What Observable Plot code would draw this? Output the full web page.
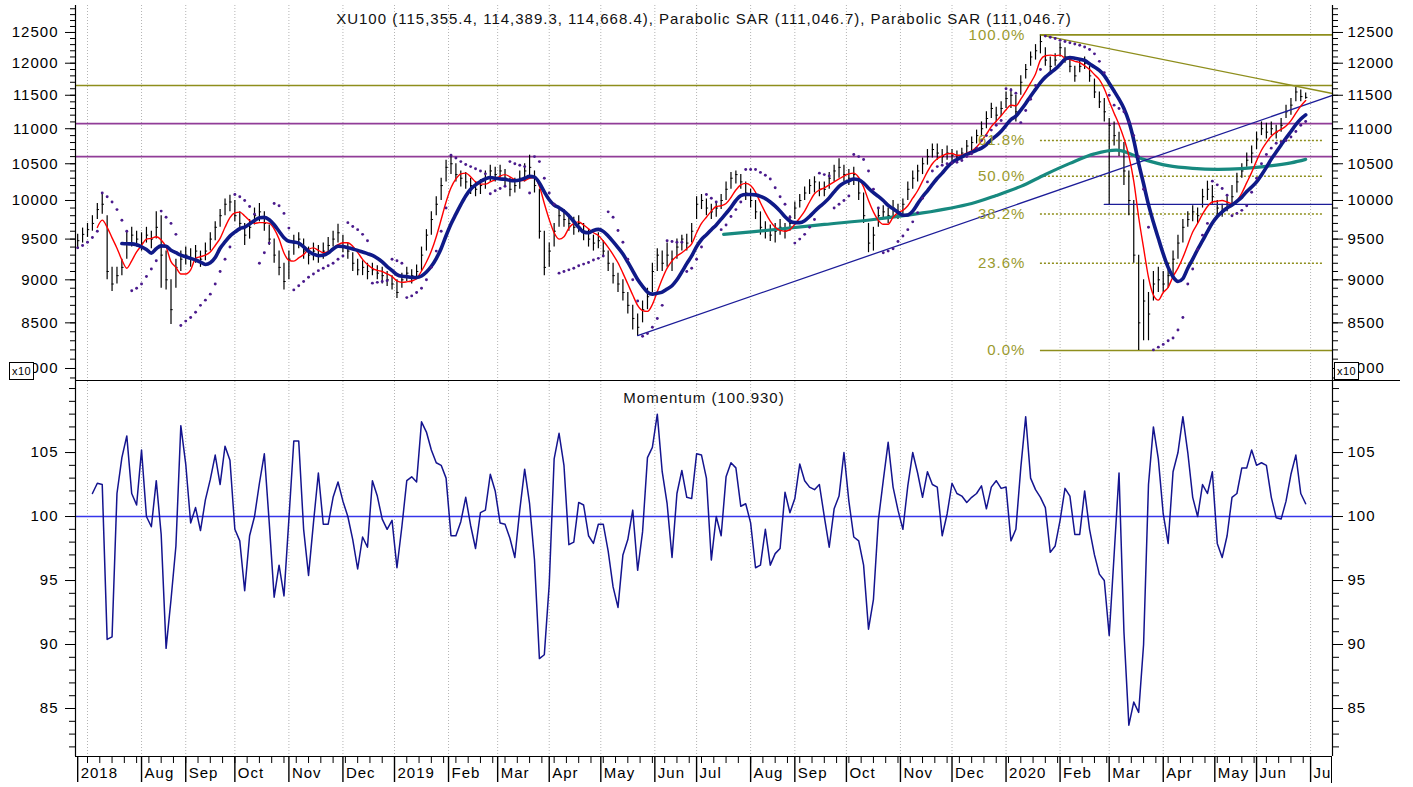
<!DOCTYPE html>
<html><head><meta charset="utf-8">
<script src="https://cdn.jsdelivr.net/npm/d3@7"></script>
<script src="https://cdn.jsdelivr.net/npm/@observablehq/plot@0.6"></script>
<style>
body{margin:0;background:#fff;}
#wrap{position:relative;width:1413px;height:787px;overflow:hidden;font-family:"Liberation Sans",Arial,sans-serif;background:#fff;}
#top,#bot{position:absolute;left:0;}
#top{top:0}
#bot{top:381px}
.x10{position:absolute;width:25px;height:18px;border:1px solid #000;background:#fff;font-size:11px;line-height:16px;text-align:center;box-sizing:border-box;letter-spacing:0.5px}
.hl{position:absolute;background:#000;height:1px}
</style></head><body><div id="wrap"><div id="top"></div><div id="bot"></div>
<div class="hl" style="left:75px;top:380px;width:1325px"></div>
<div class="x10" style="left:9px;top:362px">x10</div>
<div class="x10" style="left:1334px;top:362px">x10</div>
<div style="position:absolute;left:1331px;top:757px;width:82px;height:26px;background:#fff;border-left:1.5px solid #000;box-sizing:border-box"></div>
</div>
<script>
// ---- Price data (XU100 /10), one sample every 2 trading days ----
const startDay = -4, stepDays = 2;
const closeP = [
9480,9560,9620,9700,9880,9950,9100,8950,9050,9150,
9450,9550,9500,9450,9550,9500,9650,9300,9000,8650,
9150,9250,9300,9250,9350,9250,9350,9500,9650,9800,
9950,9980,9800,9700,9550,9650,9800,9850,9700,9500,
9300,9150,8980,9250,9450,9500,9350,9300,9350,9300,
9350,9420,9500,9580,9420,9350,9200,9120,9150,9100,
9120,9080,9050,9000,8950,8850,9000,9080,9050,9100,
9300,9550,9750,9950,10200,10450,10500,10350,10300,10250,
10200,10150,10200,10300,10400,10350,10400,10300,10150,10200,
10300,10400,10450,10200,9600,9150,9350,9600,9800,9750,
9700,9650,9700,9600,9500,9450,9480,9350,9200,9050,
8950,8850,8700,8550,8450,8650,8800,9100,9300,9200,
9300,9250,9400,9500,9450,9600,9950,10000,9900,9850,
9900,10000,10150,10300,10350,10250,10100,10000,9850,9650,
9600,9550,9600,9650,9600,9700,9900,10000,10100,10200,
10250,10150,10150,10300,10400,10450,10350,10300,10350,10100,
9800,9450,9550,9800,9850,9800,9900,9850,9950,10150,
10300,10400,10500,10600,10700,10650,10600,10650,10620,10580,
10650,10750,10800,10900,11000,11150,11300,11200,11300,11450,
11500,11250,11700,11900,12100,12200,12350,12050,11950,12050,
12250,12100,11950,11800,11950,12000,11800,11550,11400,11250,
11050,10900,10700,10400,10000,9300,8500,8750,8600,8950,
9000,8950,9050,9250,9450,9650,9750,9850,9800,10050,
10150,10050,9900,9850,9950,10050,10250,10400,10550,10650,
10850,11000,10950,11000,10950,11050,11250,11350,11550,11480,11467];
const highP = [
9560,9640,9700,9800,9960,10100,9800,9150,9150,9250,
9600,9650,9600,9580,9650,9600,9850,9800,9350,9000,
9250,9350,9400,9380,9420,9350,9450,9580,9720,9880,
10020,10070,10000,9850,9700,9750,9900,9960,9850,9680,
9500,9350,9200,9350,9550,9580,9500,9400,9450,9420,
9450,9520,9600,9690,9550,9450,9330,9250,9230,9200,
9200,9170,9150,9100,9050,9000,9080,9150,9120,9180,
9400,9620,9850,10050,10300,10550,10620,10500,10400,10380,
10300,10250,10280,10400,10480,10450,10480,10420,10300,10300,
10400,10500,10620,10400,10150,9600,9450,9700,9900,9880,
9820,9780,9800,9700,9620,9550,9580,9480,9350,9200,
9080,9000,8850,8700,8600,8750,8900,9200,9380,9350,
9450,9350,9500,9550,9560,9700,10050,10080,10020,9950,
9980,10080,10250,10380,10400,10350,10250,10150,10000,9850,
9720,9680,9700,9750,9700,9800,9980,10080,10180,10280,
10320,10250,10250,10380,10480,10570,10480,10420,10450,10300,
10100,9700,9650,9880,9930,9900,10000,9950,10020,10250,
10400,10480,10580,10700,10780,10780,10700,10750,10700,10680,
10720,10830,10880,10980,11100,11250,11380,11320,11400,11550,
11600,11500,11800,11980,12180,12300,12460,12250,12100,12150,
12330,12250,12100,11950,12050,12100,11950,11750,11550,11450,
11150,11100,10950,10800,10400,10000,9300,9000,8850,9100,
9150,9100,9200,9350,9550,9750,9850,9930,9900,10150,
10260,10200,10000,9950,10050,10200,10370,10500,10650,10750,
10950,11100,11080,11100,11050,11150,11350,11450,11620,11580,11535];
const lowP = [
9380,9450,9520,9600,9750,9820,9000,8860,8950,9050,
9250,9400,9400,9350,9450,9380,9500,8900,8880,8480,
8900,9100,9180,9150,9200,9150,9230,9350,9480,9650,
9800,9850,9720,9600,9420,9500,9680,9720,9600,9420,
9200,9050,8880,9000,9300,9380,9250,9180,9230,9200,
9250,9320,9400,9450,9330,9250,9100,9050,9050,9000,
9050,9000,8950,8920,8880,8780,8900,8980,8950,9000,
9100,9350,9550,9800,10000,10250,10350,10250,10180,10150,
10080,10050,10080,10150,10250,10250,10300,10200,10050,10100,
10150,10250,10300,10100,9500,9050,9150,9400,9650,9650,
9600,9550,9580,9480,9400,9350,9380,9280,9100,8950,
8850,8750,8600,8420,8350,8500,8650,8850,9100,9100,
9150,9100,9250,9350,9350,9450,9750,9880,9800,9750,
9780,9880,10000,10150,10220,10150,10000,9900,9750,9550,
9500,9470,9450,9550,9500,9600,9750,9900,10000,10080,
10100,10050,10050,10150,10250,10300,10250,10200,10200,10000,
9700,9330,9350,9650,9750,9700,9780,9750,9800,10000,
10150,10250,10350,10480,10580,10550,10500,10550,10530,10530,
10560,10620,10680,10780,10880,11000,11150,11100,11180,11300,
11300,11100,11500,11750,11950,12050,12150,11950,11850,11950,
12100,12000,11850,11700,11850,11900,11700,11450,11300,11100,
9948,10750,10600,10200,9800,9200,8194,8300,8300,8750,
8850,8850,8900,9050,9250,9450,9650,9720,9700,9900,
10000,9950,9800,9780,9850,9950,10100,10300,10450,10500,
10700,10900,10850,10900,10850,10950,11150,11200,11400,11400,11439];
const sarP = [
9390,9420,9460,9520,9600,10100,10050,9980,9880,9740,
9600,8870,8900,8950,9040,9130,9230,9860,9780,9700,
9560,8470,8520,8560,8620,8700,8760,8830,8950,9100,
9250,9400,10080,10050,10000,9920,9820,9200,9330,9450,
9960,9930,9830,9640,8880,8930,8980,9030,9070,9110,
9140,9170,9200,9250,9290,9710,9660,9620,9560,9480,
8960,8970,8980,8990,9250,9230,9200,8790,8810,8850,
8900,9000,9150,9350,9600,9900,10620,10580,10530,10490,
10460,10430,10400,10360,10090,10130,10160,10190,10530,10500,
10480,10460,10100,10600,10530,10300,10100,9950,9080,9100,
9120,9140,9170,9190,9210,9240,9260,9290,9850,9780,
9610,9460,9250,9000,8750,8350,8380,8450,8550,8700,
9480,9470,9460,9460,9100,9140,9250,9400,10080,10030,
9980,9620,9680,9790,9880,9980,10420,10420,10420,10380,
10340,10290,10170,10050,9950,9780,9450,9500,9560,9650,
9750,10370,10350,10330,9900,9950,10000,10060,10630,10600,
10560,10400,10150,9900,9330,9350,9380,9470,9540,9620,
9720,9840,10030,10250,10400,10460,10480,10500,10510,10520,
10545,10600,10640,10720,10830,10900,10980,11050,11120,11600,
11580,11530,11090,11270,11440,11650,11900,12440,12420,12400,
12370,12350,12330,12310,12290,12260,12220,12150,12030,11850,
11500,11350,11300,11250,11100,10900,10600,10150,9650,8200,
8230,8260,8300,8330,8420,8560,8950,9130,9370,9550,
9700,10260,10210,10160,10070,9800,9830,9870,9930,10110,
10300,10500,10630,10720,10790,10810,10830,10880,10960,11050,11105];
// ---- Momentum, same sampling ----
const momP = [
null,null,null,101.8,102.6,102.5,90.4,90.6,101.8,104.6,
106.3,101.8,100.9,105.2,100.0,99.2,102.8,98.6,89.7,93.5,
97.7,107.1,104.1,99.5,100.7,98.9,101.3,102.9,104.8,102.5,
105.5,104.4,99.0,98.1,94.2,98.5,100.0,102.6,104.9,99.5,
93.7,96.2,93.8,99.8,105.9,105.9,99.0,95.4,99.5,103.4,
99.4,99.4,101.5,102.7,101.2,100.0,98.2,95.9,98.4,97.6,
102.8,101.6,99.8,99.0,99.7,96.0,99.2,102.8,103.1,102.7,
107.4,106.6,105.2,104.2,104.0,103.0,98.5,98.5,99.6,101.5,
99.3,97.5,100.3,100.5,103.3,102.0,99.5,99.4,98.3,96.8,
100.5,103.7,101.0,96.6,88.9,89.2,94.7,104.5,106.5,104.0,
97.8,98.0,101.1,100.9,98.5,97.9,99.4,99.4,97.3,94.5,
92.9,97.0,98.2,100.5,95.8,98.8,104.6,105.4,108.0,103.5,
101.0,96.8,101.8,103.6,101.5,101.4,104.9,104.8,103.0,96.6,
100.0,98.5,103.1,104.2,103.8,100.8,101.0,99.5,96.0,96.2,
99.0,96.2,97.1,97.5,101.9,100.3,101.4,104.1,102.8,102.3,
102.1,102.5,100.0,97.6,100.6,101.6,105.0,101.2,98.4,98.1,
96.2,91.2,93.5,99.7,102.8,105.8,102.3,100.5,99.0,102.4,
105.0,103.4,101.5,103.5,102.5,102.3,98.5,100.2,102.6,101.8,
101.6,101.1,101.5,101.8,102.4,100.6,102.3,102.8,102.2,102.3,
98.1,99.0,103.8,107.8,103.0,102.1,101.5,100.7,97.2,97.7,
99.7,102.2,101.6,98.6,98.6,102.0,99.0,97.0,95.5,95.0,
90.7,97.0,103.4,91.0,83.7,85.5,84.7,90.0,102.5,107.0,
104.5,100.2,97.9,103.5,105.0,107.8,105.0,101.5,100.0,102.5,
101.8,103.5,97.9,96.8,98.5,101.5,101.8,103.8,103.8,105.2,
104.0,104.2,104.0,101.5,99.9,99.8,101.2,103.3,104.8,101.8,101.0];
// ---- long moving average (teal), read at trading-day positions ----
const tealDays = [259,280,300,320,340,360,370,380,390,400,410,420,430,440,450,460,470,480,490,496];
const tealVals = [9559,9622,9687,9751,9836,9961,10066,10189,10352,10505,10639,10689,10561,10473,10435,10421,10432,10463,10512,10561];
// ---- Drawn levels ----
const oliveLevel = 11650;
const purpleLevels = [11075, 10600];
const fibHigh = 12460, fibLow = 8194, fibStartDay = 388, fibDotEndDay = 503;
const fibLevels = [100, 61.8, 50, 38.2, 23.6, 0];
const blueTrend = [{day: 224, v: 8358}, {day: 506.92, v: 11497}];
const oliveTrend = [{day: 388, v: 12460}, {day: 506.92, v: 11527}];
const blueFlat = [{day: 414, v: 9948}, {day: 506.92, v: 9948}];
// ---- Axis data ----
const monthLabels = ["2018","Aug","Sep","Oct","Nov","Dec","2019","Feb","Mar","Apr","May","Jun","Jul","Aug","Sep","Oct","Nov","Dec","2020","Feb","Mar","Apr","May","Jun","Jul"];
const monthStart = [0,22,40,60,82,104,125,147,167,188,209,231,248,270,288,309,331,352,374,396,416,438,459,476,498];
const topMajor = [8000,8500,9000,9500,10000,10500,11000,11500,12000,12500];
const botMajor = [85,90,95,100,105];
const titleTop = "XU100 (115,355.4, 114,389.3, 114,668.4), Parabolic SAR (111,046.7), Parabolic SAR (111,046.7)";
const titleBot = "Momentum (100.930)";

// ---- build tables ----
const bars = closeP.map((c, i) => ({day: startDay + stepDays * i, close: c, high: highP[i], low: lowP[i], sar: sarP[i], mom: momP[i]}));
const teal = tealDays.map((d, i) => ({day: d, v: tealVals[i]}));
const fib = fibLevels.map(l => ({lvl: l, v: fibLow + (fibHigh - fibLow) * l / 100, label: l.toFixed(1) + "%", solid: l === 0 || l === 100}));
const labelDays = monthStart.map((d, i) => i === 0 ? startDay : d);
const months = monthLabels.map((m, i) => ({day: labelDays[i], label: m}));
const longTicks = labelDays;
const weekTicks = d3.range(0, 500, 5);
const topMinor = d3.range(7900, 13000, 100);
const botMinor = d3.range(82, 111, 1);

const xDom = [-4.886, 506.92];
const W = 1413;
const FONT = "font-family:'Liberation Sans',Arial,sans-serif;font-size:15px;letter-spacing:1px;overflow:visible;background:transparent;";
const olive = "#8e8e1c", oliveTxt = "#9a9a2e", purple = "#913d98", navy = "#0f1a88", grid = "#b4b4b4";

const topPlot = Plot.plot({
  width: W, height: 381, marginLeft: 75, marginRight: 81, marginTop: 5, marginBottom: 0,
  style: FONT,
  x: {type: "linear", domain: xDom, axis: null},
  y: {type: "log", domain: [7863, 12956], axis: null},
  marks: [
    Plot.ruleX(monthStart, {stroke: grid, strokeDasharray: "1,2"}),
    Plot.ruleY([oliveLevel], {stroke: olive, strokeWidth: 1.6}),
    Plot.ruleY(purpleLevels, {stroke: purple, strokeWidth: 1.6}),
    Plot.ruleY(fib.filter(f => f.solid), {y: "v", x1: () => fibStartDay, x2: () => xDom[1], stroke: olive, strokeWidth: 1.6}),
    Plot.ruleY(fib.filter(f => !f.solid), {y: "v", x1: () => fibStartDay, x2: () => fibDotEndDay, stroke: olive, strokeWidth: 1.5, strokeDasharray: "2,2"}),
    Plot.ruleX(bars, {x: "day", y1: "low", y2: "high", stroke: "#000", strokeWidth: 1.2}),
    Plot.ruleY(bars, {y: "close", x1: "day", x2: d => d.day + 0.9, stroke: "#000", strokeWidth: 1}),
    Plot.line(teal, {x: "day", y: "v", stroke: "#17897f", strokeWidth: 3.2, curve: "catmull-rom"}),
    Plot.line(blueTrend, {x: "day", y: "v", stroke: "#1c1c98", strokeWidth: 1.3}),
    Plot.line(oliveTrend, {x: "day", y: "v", stroke: olive, strokeWidth: 1.4}),
    Plot.line(blueFlat, {x: "day", y: "v", stroke: "#1c1c98", strokeWidth: 1.3}),
    Plot.lineY(bars, Plot.windowY({k: 5, anchor: "end", strict: true}, {x: "day", y: "close", stroke: "#ff0000", strokeWidth: 1.4, curve: "monotone-x"})),
    Plot.lineY(bars, Plot.windowY({k: 10, anchor: "end", strict: true}, {x: "day", y: "close", stroke: navy, strokeWidth: 3.6, curve: "monotone-x"})),
    Plot.dot(bars, {x: "day", y: "sar", r: 1.45, fill: "#4a1a8c", stroke: null}),
    Plot.text(fib, {x: () => fibStartDay, y: "v", text: "label", textAnchor: "end", dx: -15, fill: oliveTxt, fontSize: 15}),
    Plot.text([titleTop], {text: d => d, frameAnchor: "top", lineAnchor: "middle", dy: 14, fontSize: 15, fill: "#111"}),
    Plot.axisY({anchor: "left", ticks: topMinor, tickSize: 5, tickFormat: () => "", label: null}),
    Plot.axisY({anchor: "left", ticks: topMajor, tickSize: 10, tickPadding: 7, tickFormat: d => String(d), label: null, fontSize: 15}),
    Plot.axisY({anchor: "right", ticks: topMinor, tickSize: 5, tickFormat: () => "", label: null}),
    Plot.axisY({anchor: "right", ticks: topMajor, tickSize: 10, tickPadding: 5, tickFormat: d => String(d), label: null, fontSize: 15}),
    Plot.ruleX([xDom[0], xDom[1]], {stroke: "#000", strokeWidth: 1.2})
  ]
});
document.getElementById("top").appendChild(topPlot);

const botPlot = Plot.plot({
  width: W, height: 406, marginLeft: 75, marginRight: 81, marginTop: 0, marginBottom: 31,
  style: FONT,
  x: {type: "linear", domain: xDom, axis: null},
  y: {type: "linear", domain: [81.25, 110.55], axis: null},
  marks: [
    Plot.ruleX(monthStart, {stroke: grid, strokeDasharray: "1,2"}),
    Plot.ruleY([100], {stroke: "#3535ea", strokeWidth: 1.6}),
    Plot.line(bars, {x: "day", y: "mom", stroke: "#14148f", strokeWidth: 1.5}),
    Plot.text([titleBot], {text: d => d, frameAnchor: "top", lineAnchor: "middle", dy: 17, fontSize: 15, fill: "#111"}),
    Plot.axisY({anchor: "left", ticks: botMinor, tickSize: 6, tickFormat: () => "", label: null}),
    Plot.axisY({anchor: "left", ticks: botMajor, tickSize: 10, tickPadding: 7, tickFormat: d => String(d), label: null, fontSize: 15}),
    Plot.axisY({anchor: "right", ticks: botMinor, tickSize: 6, tickFormat: () => "", label: null}),
    Plot.axisY({anchor: "right", ticks: botMajor, tickSize: 10, tickPadding: 5, tickFormat: d => String(d), label: null, fontSize: 15}),
    Plot.axisX({anchor: "bottom", ticks: weekTicks, tickSize: 7, tickFormat: () => "", label: null}),
    Plot.axisX({anchor: "bottom", ticks: longTicks, tickSize: 26, tickFormat: () => "", label: null, strokeWidth: 1.4}),
    Plot.text(months, {x: "day", text: "label", frameAnchor: "bottom", lineAnchor: "middle", dy: 17, dx: 3, textAnchor: "start", fontSize: 15, fill: "#000"}),
    Plot.ruleX([xDom[0], xDom[1]], {stroke: "#000", strokeWidth: 1.2}),
    Plot.ruleY([81.25], {stroke: "#000", strokeWidth: 1.2})
  ]
});
document.getElementById("bot").appendChild(botPlot);
</script></body></html>
